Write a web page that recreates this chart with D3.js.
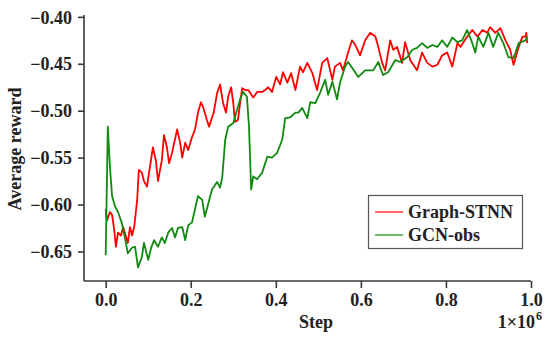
<!DOCTYPE html>
<html><head><meta charset="utf-8">
<script src="https://cdn.jsdelivr.net/npm/d3@7"></script>
<style>body{margin:0;background:#fff}svg{display:block}</style>
</head><body>
<script>
const seriesNames = ["Graph-STNN", "GCN-obs"];
const seriesColors = ["#ff0000", "#108a10"];
const xTicks = [0.0, 0.2, 0.4, 0.6, 0.8, 1.0];
const yTicks = [-0.40, -0.45, -0.50, -0.55, -0.60, -0.65];

// step (x 1e6), average reward
const stnnStep = [0.000,0.003,0.010,0.015,0.020,0.024,0.029,0.036,0.041,0.045,0.052,0.057,0.062,0.067,0.074,0.078,0.085,0.090,0.097,0.104,0.111,0.118,0.123,0.132,0.137,0.144,0.149,0.156,0.168,0.175,0.180,0.187,0.194,0.203,0.210,0.217,0.224,0.229,0.238,0.243,0.254,0.262,0.269,0.276,0.283,0.288,0.295,0.300,0.304,0.311,0.316,0.321,0.328,0.335,0.347,0.356,0.368,0.375,0.382,0.391,0.401,0.410,0.417,0.427,0.436,0.446,0.457,0.464,0.474,0.486,0.497,0.509,0.521,0.533,0.539,0.551,0.558,0.570,0.579,0.587,0.598,0.610,0.622,0.634,0.641,0.650,0.657,0.669,0.676,0.685,0.697,0.704,0.716,0.732,0.744,0.756,0.768,0.780,0.791,0.803,0.815,0.827,0.834,0.850,0.862,0.874,0.886,0.897,0.904,0.916,0.928,0.940,0.951,0.959,0.971,0.980,0.987,0.989,0.991];
const stnnReward = [-0.605,-0.617,-0.608,-0.611,-0.627,-0.645,-0.630,-0.633,-0.624,-0.630,-0.641,-0.624,-0.633,-0.624,-0.595,-0.563,-0.566,-0.575,-0.581,-0.560,-0.539,-0.553,-0.575,-0.553,-0.526,-0.539,-0.556,-0.545,-0.520,-0.534,-0.550,-0.534,-0.542,-0.528,-0.520,-0.502,-0.491,-0.496,-0.510,-0.517,-0.502,-0.481,-0.472,-0.492,-0.502,-0.485,-0.475,-0.492,-0.512,-0.510,-0.492,-0.476,-0.478,-0.478,-0.486,-0.480,-0.480,-0.478,-0.475,-0.480,-0.464,-0.472,-0.459,-0.470,-0.460,-0.478,-0.453,-0.459,-0.449,-0.460,-0.478,-0.449,-0.444,-0.467,-0.453,-0.449,-0.457,-0.438,-0.425,-0.430,-0.441,-0.425,-0.417,-0.421,-0.432,-0.449,-0.457,-0.425,-0.435,-0.432,-0.449,-0.427,-0.446,-0.457,-0.438,-0.449,-0.453,-0.451,-0.441,-0.438,-0.453,-0.428,-0.432,-0.421,-0.414,-0.421,-0.414,-0.417,-0.411,-0.417,-0.412,-0.425,-0.435,-0.451,-0.432,-0.421,-0.421,-0.417,-0.428];

const gcnStep = [0.000,0.005,0.010,0.015,0.022,0.029,0.038,0.045,0.052,0.062,0.069,0.076,0.085,0.090,0.100,0.107,0.114,0.123,0.132,0.139,0.147,0.156,0.163,0.170,0.180,0.187,0.194,0.203,0.210,0.217,0.227,0.233,0.250,0.262,0.269,0.274,0.281,0.288,0.300,0.309,0.316,0.323,0.332,0.337,0.342,0.347,0.356,0.368,0.380,0.391,0.403,0.415,0.422,0.434,0.446,0.453,0.462,0.474,0.481,0.493,0.504,0.516,0.523,0.533,0.544,0.551,0.563,0.570,0.579,0.594,0.610,0.629,0.641,0.652,0.664,0.681,0.692,0.709,0.721,0.732,0.744,0.756,0.768,0.780,0.791,0.803,0.815,0.827,0.838,0.850,0.862,0.869,0.876,0.888,0.900,0.911,0.923,0.935,0.947,0.959,0.971,0.987,0.991];
const gcnReward = [-0.654,-0.517,-0.560,-0.591,-0.602,-0.608,-0.620,-0.635,-0.652,-0.646,-0.645,-0.667,-0.656,-0.641,-0.659,-0.646,-0.638,-0.645,-0.635,-0.641,-0.630,-0.625,-0.635,-0.625,-0.624,-0.638,-0.622,-0.619,-0.605,-0.591,-0.595,-0.613,-0.584,-0.576,-0.582,-0.571,-0.531,-0.517,-0.513,-0.499,-0.488,-0.480,-0.485,-0.517,-0.584,-0.570,-0.573,-0.566,-0.549,-0.550,-0.545,-0.531,-0.508,-0.507,-0.502,-0.502,-0.497,-0.508,-0.491,-0.492,-0.481,-0.467,-0.483,-0.469,-0.488,-0.470,-0.453,-0.448,-0.454,-0.464,-0.457,-0.457,-0.448,-0.462,-0.459,-0.446,-0.448,-0.443,-0.435,-0.433,-0.428,-0.433,-0.430,-0.432,-0.425,-0.432,-0.422,-0.427,-0.425,-0.414,-0.428,-0.438,-0.421,-0.432,-0.417,-0.432,-0.417,-0.428,-0.443,-0.444,-0.428,-0.425,-0.421];

const W = 550, H = 338;
const svg = d3.select("body").append("svg").attr("width", W).attr("height", H);
const font = "'Liberation Serif','Times New Roman',serif";
const axisColor = "#3a3a3a";

const x = d3.scaleLinear().domain([-0.051, 1.0]).range([84, 531]);
const y = d3.scaleLinear().domain([-0.6815, -0.398]).range([281, 15]);

const line = d3.line().x(d => x(d[0])).y(d => y(d[1]));
const seriesData = [
  d3.zip(stnnStep, stnnReward),
  d3.zip(gcnStep, gcnReward)
];
// draw GCN first then STNN? In reference red appears under green in places; draw red first
svg.append("path").datum(seriesData[0]).attr("d", line)
  .attr("fill", "none").attr("stroke", seriesColors[0]).attr("stroke-width", 1.8).attr("stroke-linejoin", "round");
svg.append("path").datum(seriesData[1]).attr("d", line)
  .attr("fill", "none").attr("stroke", seriesColors[1]).attr("stroke-width", 1.8).attr("stroke-linejoin", "round");

// axes
const xAxis = d3.axisBottom(x).tickValues(xTicks).tickFormat(d3.format(".1f")).tickSizeOuter(0).tickSize(7);
const yAxis = d3.axisLeft(y).tickValues(yTicks).tickFormat(d3.format(".2f")).tickSizeOuter(0).tickSize(6);

const gx = svg.append("g").attr("transform", "translate(0,281)").call(xAxis);
const gy = svg.append("g").attr("transform", "translate(84,0)").call(yAxis);
[gx, gy].forEach(g => {
  g.select(".domain").attr("stroke", axisColor).attr("stroke-width", 1.6);
  g.selectAll(".tick line").attr("stroke", axisColor).attr("stroke-width", 1.6);
  g.selectAll(".tick text").attr("fill", "#222").style("font-family", font)
    .style("font-weight", "bold").style("font-size", "18px");
});
gx.select(".domain").attr("d", "M0,0H531".replace("M0", "M84").replace("H531","H531"));
gx.select(".domain").attr("d", `M${84},0H${531}`);
gy.select(".domain").attr("d", `M0,${15}V${281}`);
gx.selectAll(".tick text").attr("y", 12).attr("dy", "0.71em");
gy.selectAll(".tick text").attr("x", -12).attr("dy", "0.34em");

// axis titles
svg.append("text").attr("x", 316).attr("y", 328).attr("text-anchor", "middle")
  .style("font-family", font).style("font-weight", "bold").style("font-size", "18px").attr("fill", "#222")
  .text("Step");
const mult = svg.append("text").attr("x", 535).attr("y", 328).attr("text-anchor", "end")
  .style("font-family", font).style("font-weight", "bold").style("font-size", "18px").attr("fill", "#222");
mult.append("tspan").text("1×10");
svg.append("text").attr("x", 536).attr("y", 320)
  .style("font-family", font).style("font-weight", "bold").style("font-size", "12px").attr("fill", "#222")
  .text("6");
svg.append("text").attr("transform", "translate(21,149) rotate(-90)").attr("text-anchor", "middle")
  .style("font-family", font).style("font-weight", "bold").style("font-size", "18px").attr("fill", "#222")
  .text("Average reward");

// legend
const lg = svg.append("g");
lg.append("rect").attr("x", 368.5).attr("y", 195.5).attr("width", 154).attr("height", 53)
  .attr("fill", "#fff").attr("stroke", "#555").attr("stroke-width", 1.2);
seriesNames.forEach((n, i) => {
  const cy = 212 + i * 23;
  lg.append("line").attr("x1", 375).attr("x2", 403).attr("y1", cy).attr("y2", cy)
    .attr("stroke", seriesColors[i]).attr("stroke-width", 1.2);
  lg.append("text").attr("x", 408).attr("y", cy).attr("dy", "0.35em")
    .style("font-family", font).style("font-weight", "bold").style("font-size", "18px").attr("fill", "#222")
    .text(n);
});
</script>
</body></html>
